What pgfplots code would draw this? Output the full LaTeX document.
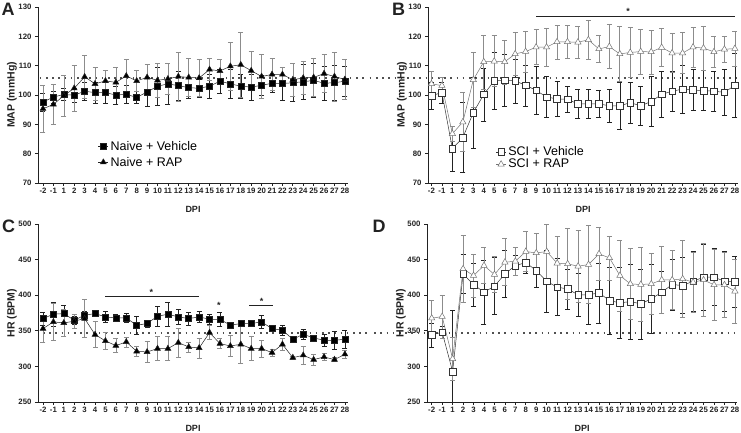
\documentclass[border=0pt]{standalone}
\usepackage{pgfplots}
\pgfplotsset{compat=1.18}
\usepackage{pgfplotstable}
\usepackage{fontspec}
\setmainfont{Liberation Sans}

\pgfplotstableread{
i v ve r re
0 97.6 3.0 95.3 8.0
1 99.3 2.0 96.8 6.7
2 100.2 2.0 99.8 7.0
3 99.9 2.5 102.3 7.7
4 101.3 3.0 106.2 7.3
5 100.8 3.5 103.8 5.7
6 100.8 3.5 104.8 3.5
7 100.0 3.0 104.3 5.2
8 100.2 3.0 106.5 5.7
9 99.2 2.0 104.8 3.5
10 101.0 5.0 106.0 4.5
11 103.0 6.5 105.0 5.8
12 103.8 7.0 105.5 5.3
13 103.2 5.0 106.3 8.3
14 102.5 3.5 106.0 6.5
15 102.3 3.0 105.8 6.3
16 103.0 4.0 108.7 3.8
17 104.7 4.0 108.2 4.0
18 103.8 5.0 109.8 8.2
19 103.0 4.0 110.3 11.0
20 102.7 4.5 108.3 6.6
21 103.3 3.5 106.3 7.5
22 104.0 3.0 107.0 5.5
23 103.9 5.6 107.0 2.5
24 104.2 6.5 105.2 5.6
25 104.5 6.0 105.8 5.7
26 105.0 5.7 106.0 6.6
27 104.0 5.7 107.3 6.5
28 104.2 6.0 106.3 8.3
29 104.7 5.2 105.3 6.8
}\dataA

\pgfplotstableread{
i v ve r re
0 99.8 4.5 103.8 4.3
1 100.8 3.5 103.2 3.0
2 81.7 7.7 86.8 2.5
3 85.5 12.0 90.8 10.0
4 94.0 12.0 105.2 9.5
5 100.2 9.0 111.3 9.2
6 104.8 9.7 111.5 8.7
7 105.0 9.0 111.3 7.5
8 104.8 7.5 114.0 7.3
9 103.3 7.0 114.8 7.0
10 101.6 8.3 116.3 6.0
11 99.3 7.0 116.3 6.5
12 98.7 6.0 118.1 5.8
13 98.5 4.5 118.1 5.5
14 97.0 5.0 118.0 5.5
15 97.0 5.0 118.8 6.8
16 97.0 4.5 115.7 4.5
17 96.3 5.5 116.5 7.5
18 96.3 8.0 114.0 9.3
19 97.4 7.0 114.5 8.5
20 96.3 6.7 114.8 7.7
21 97.8 8.6 114.7 7.5
22 100.2 7.8 116.2 6.5
23 101.3 6.8 114.3 6.7
24 102.0 8.3 114.3 7.0
25 101.7 7.0 116.3 6.7
26 101.5 6.8 116.0 7.5
27 101.3 6.7 114.7 5.3
28 100.9 7.8 115.6 4.5
29 103.3 11.0 115.8 6.0
}\dataB

\pgfplotstableread{
i v ve r re
0 367.2 9 353.1 19
1 373.3 17 362.5 26
2 374.2 12 361.1 19
3 364.8 5 363.5 10
4 371.9 5 367.2 27
5 374.2 3 344.7 18
6 369.5 8 335.8 12
7 368.1 5 329.2 10
8 368.1 6 334.4 7
9 357.8 12 321.2 7
10 360.2 5 320.3 15
11 370.5 14 325.0 17
12 373.3 17 325.0 17
13 369.5 11 333.4 20
14 367.2 9 327.3 7
15 369.5 8 325.9 14
16 366.2 7 347.5 10
17 366.2 10 332.0 7
18 357.8 3 328.7 15
19 360.2 2 331.0 27
20 360.2 2 325.0 17
21 362.5 9 325.0 12
22 353.1 3 319.4 5
23 350.8 7 331.0 9
24 338.1 2 312.3 2
25 345.1 7 315.6 12
26 340.0 3 309.5 8
27 336.7 9 313.3 5
28 336.7 12 309.5 3
29 338.1 12 317.0 6
}\dataC

\pgfplotstableread{
i v vp vm r re
0 344.3 17 17 367.7 25
1 348.0 9 9 370.0 30
2 292.9 86 42.9 310.7 30
3 429.9 27 27 437.0 47
4 415.0 30 30 427.6 30
5 404.2 45 45 441.6 25
6 412.6 40 40 429.0 25
7 429.9 33 33 446.3 33
8 441.6 14 14 447.7 20
9 445.8 15 15 461.3 28
10 434.6 24 24 459.4 28
11 419.6 43 43 461.3 38
12 411.2 40 40 444.9 38
13 408.9 28 28 444.0 50
14 400.5 30 30 440.7 50
15 400.5 42 42 443.0 55
16 403.3 42 42 458.0 37
17 392.5 47 47 452.4 31
18 389.2 50 50 427.6 50
19 391.1 53 53 415.9 50
20 387.8 49 49 415.0 52
21 394.9 49 49 415.9 43
22 404.2 30 30 421.5 47
23 415.0 36 36 421.5 42
24 413.6 39 39 422.9 54
25 419.6 42 42 418.2 42
26 425.3 46 46 421.5 51
27 425.3 40 40 414.5 50
28 419.6 42 42 414.5 46
29 419.2 36 36 405.6 45
}\dataD

\definecolor{axc}{HTML}{222222}
\definecolor{gbar}{HTML}{8C8C8C}
\definecolor{dotc}{HTML}{505050}

\tikzset{refline/.style={dotc, line width=1.7pt, dash pattern=on 1.6pt off 4.6pt}}
\newcommand{\legf}{\fontsize{12.5}{14}\selectfont}

\pgfplotsset{
  panel/.style={
    scale only axis, width=310pt,
    axis x line=bottom, axis y line=left,
    axis line style={-, line width=0.9pt, axc},
    tick align=outside, major tick length=3pt,
    tick style={line width=0.7pt, axc},
    xtick={0,...,29},
    xticklabels={-2,-1,1,2,3,4,5,6,7,8,9,10,11,12,13,14,15,16,17,18,19,20,21,22,23,24,25,26,27,28},
    tick label style={font=\bfseries\fontsize{7.8}{9}\selectfont, text=axc},
    xticklabel style={inner sep=1.5pt},
    /pgf/number format/assume math mode=true,
    clip=false,
    xlabel={DPI},
    xlabel style={at={([yshift=-26pt]axis description cs:0.5,0)}, anchor=center, font=\bfseries\fontsize{9}{10}\selectfont, text=axc},
    ylabel style={at={([xshift=-26pt]axis description cs:0,0.5)}, anchor=center, font=\bfseries\fontsize{10.5}{12}\selectfont, text=axc},
    legend cell align=left,
    legend image code/.code={\draw[mark repeat=2,mark phase=2,##1] plot coordinates {(0pt,0pt) (5pt,0pt) (10pt,0pt)};},
  },
  blackbars/.style={error bars/.cd, y dir=both, y explicit,
    error bar style={axc, line width=0.5pt},
    error mark options={rotate=90, mark size=2.5pt, axc, line width=0.5pt}},
  graybars/.style={error bars/.cd, y dir=both, y explicit,
    error bar style={gbar, line width=0.6pt},
    error mark options={rotate=90, mark size=2.5pt, gbar, line width=0.6pt}},
}

\begin{document}
\begin{tikzpicture}
\path[use as bounding box] (0pt,0pt) rectangle (741pt,433pt);

% Panel A
\begin{axis}[panel, at={(38pt,250pt)}, anchor=south west, height=176pt,
  xmin=-0.48, xmax=29.3, ymin=70, ymax=130, ytick={70,80,...,130},
  ylabel={MAP (mmHg)},
  legend style={at={(rel axis cs:0.19,0.162)}, anchor=west, draw=none, fill=none,
    font=\legf, nodes={font=\legf}, row sep=1pt, inner sep=1pt}]
\draw[refline] (axis cs:-0.3,105.8) -- (axis cs:31.1,105.8);
\addplot[axc, line width=0.5pt, mark=square*, mark size=3pt, mark options={fill=black, solid}, blackbars]
  table[x=i, y=v, y error=ve] {\dataA};
\addlegendentry{\legf Naive + Vehicle}
\addplot[axc, line width=0.5pt, mark=triangle*, mark size=3.4pt, mark options={fill=black, solid}, graybars]
  table[x=i, y=r, y error=re] {\dataA};
\addlegendentry{\legf Naive + RAP}
\end{axis}

% Panel B
\begin{axis}[panel, at={(428pt,250pt)}, anchor=south west, height=176pt,
  xmin=-0.33, xmax=29.3, ymin=70, ymax=130, ytick={70,80,...,130},
  ylabel={MAP (mmHg)},
  legend style={at={(rel axis cs:0.215,0.142)}, anchor=west, draw=none, fill=none,
    font=\legf, nodes={font=\legf}, row sep=-2pt, inner sep=1pt}]
\draw[refline] (axis cs:-5.9,105.8) -- (axis cs:29.2,105.8);
\draw[axc, line width=1pt] (axis cs:10,126.8) -- (axis cs:29,126.8);
\node[font=\bfseries\fontsize{9}{9}\selectfont, text=axc, anchor=south, inner sep=0pt] at (axis cs:18.8,127.4) {*};
\addplot[black!80, line width=0.5pt, mark=square*, mark size=3.3pt, mark options={fill=white, draw=black!80, solid}, blackbars]
  table[x=i, y=v, y error=ve] {\dataB};
\addlegendentry{\legf SCI + Vehicle}
\addplot[black!55, line width=0.5pt, mark=triangle*, mark size=3.6pt, mark options={fill=white, draw=black!55, solid}, graybars]
  table[x=i, y=r, y error=re] {\dataB};
\addlegendentry{\legf SCI + RAP}
\end{axis}

% Panel C
\begin{axis}[panel, at={(38pt,31pt)}, anchor=south west, height=178pt,
  xmin=-0.48, xmax=29.3, ymin=250, ymax=500, ytick={250,300,...,500},
  ylabel={HR (BPM)}]
\draw[refline] (axis cs:0,347.3) -- (axis cs:31.1,347.3);
\draw[axc, line width=1pt] (axis cs:6,397.6) -- (axis cs:15,397.6);
\node[font=\bfseries\fontsize{9}{9}\selectfont, text=axc, anchor=south, inner sep=0pt] at (axis cs:10.4,398.6) {*};
\node[font=\bfseries\fontsize{9}{9}\selectfont, text=axc, anchor=south, inner sep=0pt] at (axis cs:16.9,380.5) {*};
\draw[axc, line width=1pt] (axis cs:19.8,385) -- (axis cs:22.1,385);
\node[font=\bfseries\fontsize{9}{9}\selectfont, text=axc, anchor=south, inner sep=0pt] at (axis cs:21,386) {*};
\addplot[axc, line width=0.5pt, mark=square*, mark size=3pt, mark options={fill=black, solid}, blackbars]
  table[x=i, y=v, y error=ve] {\dataC};
\addplot[axc, line width=0.5pt, mark=triangle*, mark size=3.4pt, mark options={fill=black, solid}, graybars]
  table[x=i, y=r, y error=re] {\dataC};
\end{axis}

% Panel D
\begin{axis}[panel, at={(427pt,31pt)}, anchor=south west, height=178pt,
  xmin=-0.45, xmax=29.2, ymin=250, ymax=500, ytick={250,300,...,500},
  ylabel={HR (BPM)}]
\draw[refline] (axis cs:-5.5,347.1) -- (axis cs:29,347.1);
\addplot[black!80, line width=0.5pt, mark=square*, mark size=3.3pt, mark options={fill=white, draw=black!80, solid},
  error bars/.cd, y dir=both, y explicit,
  error bar style={axc, line width=0.5pt},
  error mark options={rotate=90, mark size=2.5pt, axc, line width=0.5pt}]
  table[x=i, y=v, y error plus=vp, y error minus=vm] {\dataD};
\addplot[black!55, line width=0.5pt, mark=triangle*, mark size=3.6pt, mark options={fill=white, draw=black!55, solid}, graybars]
  table[x=i, y=r, y error=re] {\dataD};
\end{axis}

% panel letters
\node[font=\bfseries\fontsize{18}{18}\selectfont, text=axc] at (8pt,424pt) {A};
\node[font=\bfseries\fontsize{18}{18}\selectfont, text=axc] at (398.5pt,424pt) {B};
\node[font=\bfseries\fontsize{18}{18}\selectfont, text=axc] at (8.5pt,207pt) {C};
\node[font=\bfseries\fontsize{18}{18}\selectfont, text=axc] at (379pt,207pt) {D};
\end{tikzpicture}
\end{document}
